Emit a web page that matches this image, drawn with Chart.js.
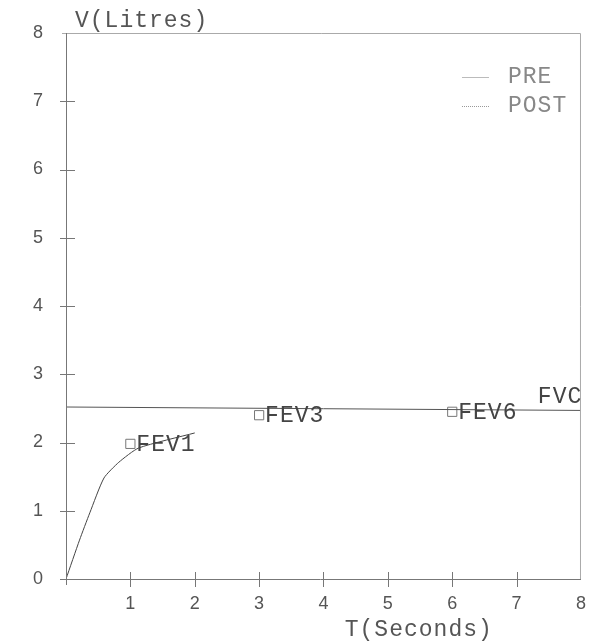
<!DOCTYPE html>
<html>
<head>
<meta charset="utf-8">
<script src="https://cdn.jsdelivr.net/npm/chart.js@4/dist/chart.umd.min.js"></script>
<style>
  html, body { margin: 0; padding: 0; background: #fff; overflow: hidden; }
  canvas { display: block; }
</style>
</head>
<body>
<canvas id="spiro" width="592" height="643" style="width:592px;height:643px"></canvas>
<script>
// volume-time curve (PRE)
const curveT = [0, 0.21, 0.37, 0.59, 0.82, 1.13, 2.0]
const curveV = [0, 0.57, 0.97, 1.48, 1.71, 1.92, 2.14]

// FVC level line
const fvcT = [0, 8]
const fvcV = [2.52, 2.47]

// FEV markers
const fevLabels = ['FEV1', 'FEV3', 'FEV6']
const fevT = [1, 3, 6]
const fevV = [1.98, 2.4, 2.45]

const legendNames = ['PRE', 'POST']
const xTicks = [0, 1, 2, 3, 4, 5, 6, 7, 8]
const yTicks = [0, 1, 2, 3, 4, 5, 6, 7, 8]

const mono = "'Liberation Mono', 'DejaVu Sans Mono', monospace"

const toPoints = (xs, ys) => xs.map((x, i) => ({ x: x, y: ys[i] }))

const annotations = {
  id: 'annotations',
  afterDraw(chart) {
    const { ctx, chartArea: a, scales: { x, y } } = chart
    ctx.save()

    // frame
    ctx.strokeStyle = '#aaa'
    ctx.lineWidth = 1
    ctx.beginPath()
    ctx.moveTo(a.left - 4, a.top + 0.5)
    ctx.lineTo(a.right - 0.5, a.top + 0.5)
    ctx.lineTo(a.right - 0.5, a.bottom)
    ctx.stroke()

    ctx.strokeStyle = '#777'
    ctx.beginPath()
    ctx.moveTo(a.left + 0.5, a.top)
    ctx.lineTo(a.left + 0.5, a.bottom + 6)
    ctx.moveTo(a.left - 6, a.bottom + 0.5)
    ctx.lineTo(a.right, a.bottom + 0.5)
    ctx.stroke()

    // crossing tick marks
    yTicks.slice(1, -1).forEach(v => {
      const py = Math.round(y.getPixelForValue(v)) + 0.5
      ctx.beginPath()
      ctx.moveTo(a.left - 6, py)
      ctx.lineTo(a.left + 9, py)
      ctx.stroke()
    })
    xTicks.slice(1, -1).forEach(v => {
      const px = Math.round(x.getPixelForValue(v)) + 0.5
      ctx.beginPath()
      ctx.moveTo(px, a.bottom - 7)
      ctx.lineTo(px, a.bottom + 8)
      ctx.stroke()
    })

    ctx.letterSpacing = '1px'

    // point labels
    ctx.fillStyle = '#444'
    ctx.font = '23px ' + mono
    ctx.textBaseline = 'middle'
    ctx.textAlign = 'left'
    fevLabels.forEach((lbl, i) => {
      ctx.fillText(lbl, x.getPixelForValue(fevT[i]) + 6, y.getPixelForValue(fevV[i]) + 1)
    })
    ctx.fillText('FVC', x.getPixelForValue(7.33), y.getPixelForValue(2.67))

    // legend
    ctx.font = '23px ' + mono
    ctx.fillStyle = '#888'
    legendNames.forEach((name, i) => {
      const ly = a.top + 44 + i * 29
      ctx.strokeStyle = i === 0 ? '#bbb' : '#999'
      ctx.setLineDash(i === 0 ? [] : [1, 1])
      ctx.beginPath()
      ctx.moveTo(a.right - 119, ly + 0.5)
      ctx.lineTo(a.right - 92, ly + 0.5)
      ctx.stroke()
      ctx.setLineDash([])
      ctx.fillText(name, a.right - 73, ly)
    })

    // axis titles
    ctx.fillStyle = '#555'
    ctx.font = '23px ' + mono
    ctx.fillText('V(Litres)', a.left + 9, a.top - 12)
    ctx.textAlign = 'center'
    ctx.fillText('T(Seconds)', x.getPixelForValue(5.48), a.bottom + 51)

    ctx.restore()
  }
}

new Chart(document.getElementById('spiro'), {
  type: 'scatter',
  data: {
    datasets: [
      {
        label: 'PRE',
        data: toPoints(curveT, curveV),
        showLine: true,
        borderColor: '#444',
        borderWidth: 1,
        pointRadius: 0,
        tension: 0.2
      },
      {
        label: 'FVC',
        data: toPoints(fvcT, fvcV),
        showLine: true,
        borderColor: '#555',
        borderWidth: 1,
        pointRadius: 0
      },
      {
        label: 'FEV',
        data: toPoints(fevT, fevV),
        showLine: false,
        pointStyle: 'rect',
        pointRadius: 6.5,
        pointBorderWidth: 1,
        pointBorderColor: '#777',
        pointBackgroundColor: 'rgba(255,255,255,0.9)'
      }
    ]
  },
  options: {
    responsive: false,
    animation: false,
    devicePixelRatio: 1,
    layout: { autoPadding: false, padding: { top: 33, right: 3, left: 0, bottom: 0 } },
    plugins: {
      legend: { display: false },
      tooltip: { enabled: false }
    },
    scales: {
      x: {
        type: 'linear',
        min: 0,
        max: 8,
        afterFit: s => { s.height = 64 },
        afterBuildTicks: s => { s.ticks = xTicks.map(v => ({ value: v })) },
        grid: { display: false },
        border: { display: false },
        ticks: {
          padding: 6,
          color: '#555',
          font: { family: "'Liberation Sans', sans-serif", size: 18 },
          callback: v => (v === 0 ? '' : v)
        }
      },
      y: {
        type: 'linear',
        min: 0,
        max: 8,
        afterFit: s => { s.width = 66 },
        afterBuildTicks: s => { s.ticks = yTicks.map(v => ({ value: v })) },
        grid: { display: false },
        border: { display: false },
        ticks: {
          padding: 15,
          color: '#555',
          font: { family: "'Liberation Sans', sans-serif", size: 18 }
        }
      }
    }
  },
  plugins: [annotations]
})
</script>
</body>
</html>
